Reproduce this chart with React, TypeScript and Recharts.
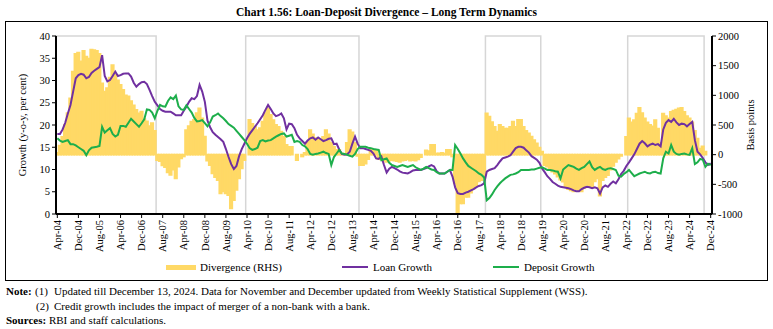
import React from 'react';
import { ComposedChart, Bar, Line, XAxis, YAxis, ReferenceArea } from 'recharts';

const FONT = '"Liberation Serif", "Times New Roman", serif';

const MONTH_NAMES = ['Jan', 'Feb', 'Mar', 'Apr', 'May', 'Jun', 'Jul', 'Aug', 'Sep', 'Oct', 'Nov', 'Dec'];
// Monthly categories from Apr-04 to Dec-24
const months: string[] = [];
for (let i = 0; i < 249; i++) {
  const mi = (3 + i) % 12;
  const yr = 2004 + Math.floor((3 + i) / 12);
  months.push(`${MONTH_NAMES[mi]}-${String(yr % 100).padStart(2, '0')}`);
}

const loanGrowth = [
  18, 18, 19, 20.5, 22.6, 24.5, 27.5, 30.5, 31.2, 31.5,
  31.3, 30.5, 30.8, 31.7, 32.2, 32.6, 33, 35.7, 31, 29.8,
  30.1, 31, 32, 31, 31.2, 31.5, 31.6, 31.6, 30.9, 29.5,
  28.6, 29.2, 29.6, 29.7, 29.2, 27.9, 26.5, 25.2, 24.4, 23.6,
  23.2, 23, 23, 23, 22.6, 22.2, 22.2, 22.2, 23.2, 24.1,
  25.2, 26, 25.8, 26.5, 29, 27.5, 25.2, 21, 19.5, 18.4,
  17.8, 17.3, 16.8, 16.2, 14.6, 12.8, 11.2, 10.1, 10.8, 13,
  14.6, 15.8, 17, 18, 18.8, 19.6, 20.4, 21.3, 22.2, 23.4,
  24.5, 23.6, 22.6, 22, 22.2, 22.6, 21.5, 19, 20.3, 20.2,
  19.3, 17.8, 17, 16.4, 15.8, 16.5, 17, 17.2, 16.7, 17.2,
  16.8, 16.4, 16.6, 16.9, 17, 15.7, 15.8, 14.5, 13.5, 13.3,
  13.4, 14, 15.8, 17.4, 15.8, 14.8, 14.8, 14.6, 14.4, 14.2,
  13.6, 12.5, 12.4, 12.9, 11, 9.3, 10.2, 10.6, 10.3, 10,
  9.6, 9.3, 9.2, 9.1, 9.4, 9.8, 9.9, 9.9, 9.9, 10.1,
  10.3, 10.7, 11, 10.7, 9.6, 9.1, 9.1, 9.1, 9.5, 9.9,
  8.4, 6, 4.7, 4.5, 4.5, 4.8, 5, 5.3, 5.6, 6,
  6.3, 6.5, 6.9, 9.5, 9.9, 10.1, 10.3, 11, 11.8, 12.5,
  12.7, 12.9, 13.2, 14, 14.8, 15.1, 15.1, 14.9, 14.3, 13.8,
  13, 12.6, 12.2, 11.5, 10.2, 9.4, 8.5, 7.9, 7.2, 6.8,
  6.4, 6.1, 6, 5.9, 5.8, 5.6, 5.3, 5.1, 5.1, 5.6,
  5.9, 6.1, 6, 5.8, 6, 5.8, 4.6, 6, 6.4, 6.1,
  6.8, 7.3, 6.9, 7.8, 9, 9.7, 10.8, 11.6, 12.5, 13.4,
  14.6, 15.8, 16.4, 15.9, 15.2, 15.6, 15.8, 15.5, 15.7, 15.2,
  19, 20.5, 21.1, 20.7, 21.4, 20.6, 20, 20.3, 20.2, 19.7,
  20.2, 20.7, 16.6, 14, 13.4, 12.6, 11.6, 11, 11.4,
];

const depositGrowth = [
  17, 16.5, 16.2, 16.4, 16.6, 15.7, 15.7, 15.4, 15, 14.6,
  14.2, 13.2, 14.3, 14.9, 15, 15.1, 15.3, 19.6, 18.3, 18.8,
  19.3, 18, 17.4, 17.8, 19.8, 19.8, 19.6, 20.5, 21.4, 20.8,
  20.2, 19.6, 20.4, 21.3, 23.5, 23.4, 22.8, 21.5, 23.2, 24.5,
  24.2, 24.1, 25.4, 26.2, 25.8, 26.6, 24.2, 23.5, 23.4, 24.4,
  23.6, 22.8, 21.6, 20.8, 20.9, 21.1, 20.4, 19.7, 20.6, 21.9,
  22.2, 22.6, 22, 21.5, 20.9, 20.2, 19.8, 19.4, 18.7, 18,
  17.3, 16.6, 15.8, 14.8, 14.4, 14.6, 14.9, 16.4, 16.6, 16.3,
  16.5, 16.6, 17, 17.4, 17.7, 18, 18.1, 17.4, 17.6, 17.8,
  16.2, 16.4, 16.2, 15.5, 15.2, 14.6, 13.5, 13.3, 13.5, 13.6,
  13.8, 14, 13.7, 13.5, 11, 12.8, 13.6, 14.4, 13.6, 13.5,
  13.3, 13.1, 12.9, 13.5, 14.6, 15.1, 15.1, 15.1, 14.9, 14.8,
  14.6, 14.5, 14.4, 12.1, 12.3, 12.5, 11.5, 11, 10.8, 10.6,
  10.8, 11, 10.8, 10.6, 10.8, 11, 10.5, 10.2, 9.9, 10.2,
  10.6, 10.3, 10, 9.9, 9.4, 9.1, 9.1, 9.1, 9.5, 9.9,
  9.9, 15.5, 14.6, 13.6, 12.5, 11.6, 10.8, 10.4, 10, 9.6,
  9.1, 8.8, 8.2, 3.1, 3.6, 4.4, 5.4, 6.2, 6.9, 7.5,
  8, 8.4, 8.8, 8.9, 9.1, 9.4, 9.9, 9.9, 9.9, 9.9,
  10, 10, 10.2, 10.4, 10.5, 10.2, 9.9, 9.9, 9.8, 9.6,
  9.5, 8, 10, 10.5, 11, 10.8, 10.6, 10.2, 9.9, 10.3,
  10.6, 11.2, 11.8, 10.5, 9.9, 10.3, 10.6, 10.1, 9.9, 10.2,
  10.3, 10.1, 9.9, 8.6, 8.4, 9, 9.4, 9.9, 9.2, 8.5,
  8.8, 9.1, 9.3, 9.5, 9.2, 9.1, 9.4, 9.5, 9.2, 9.1,
  12.5, 14, 13.6, 15.5, 14, 13.5, 13.3, 13.5, 13.6, 13.4,
  13.3, 14.8, 11.2, 11.6, 12.4, 12.2, 10.6, 11.3, 11,
];

const divergenceBps = [
  30, 150, 300, 500, 700, 950, 1400, 1700, 1720, 1570,
  1750, 1650, 1620, 1770, 1760, 1750, 1700, 1200, 1060, 1120,
  1300, 1510, 1350, 1250, 1175, 1090, 1000, 980, 900, 830,
  755, 695, 725, 600, 560, 480, 530, 400, -90, -110,
  -180, -210, -300, -340, -250, -400, -200, -60, -30, 415,
  480, 555, 585, 700, 780, 610, 305, -100, -175, -315,
  -380, -430, -650, -620, -650, -680, -905, -765, -595, -400,
  -230, -90, 0, 585, 520, 470, 415, 445, 555, 700,
  780, 670, 580, 500, 470, 390, 300, 165, 130, 130,
  0, -90, 0, -30, 30, 200, 415, 340, 280, 270,
  230, 300, 415, 340, 200, 130, 80, 80, 20, 0,
  200, 415, 375, 200, -20, -175, -175, -150, -75, 80,
  80, 60, -70, -80, -100, -120, -100, -90, -100, -110,
  -120, -100, -90, -80, -100, -90, -100, -80, -40, 0,
  70, 60, 165, 165, 20, 20, 30, 20, 80, 80,
  -30, -485, -1000, -820, -820, -710, -710, -640, -570, -520,
  -450, -430, -370, 695, 640, 550, 470, 390, 500, 470,
  440, 440, 470, 555, 470, 585, 585, 470, 400, 360,
  305, 245, 190, 120, 50, -175, -200, -230, -285, -320,
  -370, -420, -455, -545, -580, -600, -620, -580, -600, -620,
  -560, -510, -530, -545, -450, -400, -690, -430, -380, -345,
  -250, -190, -120, -65, -20, 0, 300, 610, 545, 580,
  690, 790, 700, 610, 545, 500, 475, 580, 440, 200,
  690, 650, 610, 720, 740, 760, 780, 790, 720, 650,
  610, 545, 400, 270, 100, 140, 50, 0, 0,
];

const leftTicks = [0, 5, 10, 15, 20, 25, 30, 35, 40];
const rightTicks = [-1000, -500, 0, 500, 1000, 1500, 2000];

const periodStarts = ['Apr-04', 'Apr-10', 'Nov-17', 'May-22'];
const periodEnds = ['May-07', 'Oct-13', 'Jul-19', 'Sep-24'];

const data = months.map((m, i) => ({
  month: m,
  loan: loanGrowth[i],
  deposit: depositGrowth[i],
  divergence: divergenceBps[i],
}));

const XTick = (props: any) => {
  const { x, y, payload } = props;
  return (
    <g transform={`translate(${x},${y})`}>
      <text
        x={0}
        y={0}
        dy="0.35em"
        transform="rotate(-90)"
        textAnchor="end"
        fontSize={10.5}
        fontFamily={FONT}
        fill="#000"
      >
        {payload.value}
      </text>
    </g>
  );
};

const YELLOW = '#FFD966';
const PURPLE = '#7030A0';
const GREEN = '#1DAE4B';

export default function App() {
  const textBase: React.CSSProperties = {
    position: 'absolute',
    fontFamily: FONT,
    fontSize: 11,
    color: '#000',
    whiteSpace: 'nowrap',
    lineHeight: '12px',
  };
  return (
    <div
      style={{
        position: 'absolute',
        left: 0,
        top: 0,
        width: 773,
        height: 329,
        background: '#fff',
        fontFamily: FONT,
      }}
    >
      <div
        style={{
          ...textBase,
          left: 0,
          top: 5,
          width: 773,
          textAlign: 'center',
          fontWeight: 'bold',
          fontSize: 11.5,
          lineHeight: '14px',
        }}
      >
        Chart 1.56: Loan-Deposit Divergence – Long Term Dynamics
      </div>
      <div
        style={{
          position: 'absolute',
          left: 5,
          top: 21,
          width: 761,
          height: 258,
          border: '1px solid #000',
        }}
      />
      <div style={{ position: 'absolute', left: 0, top: 0 }}>
        <ComposedChart
          width={773}
          height={262}
          data={data}
          margin={{ top: 36, right: 16, bottom: 8, left: 10 }}
          barCategoryGap={0}
          barGap={0}
        >
          <XAxis
            dataKey="month"
            interval={7}
            tickSize={4}
            height={40}
            tick={<XTick />}
            axisLine={{ stroke: '#000', strokeWidth: 2 }}
            tickLine={{ stroke: '#000' }}
          />
          <YAxis
            yAxisId="left"
            domain={[0, 40]}
            ticks={leftTicks}
            width={46}
            tickSize={4}
            tick={{ fontSize: 10.5, fill: '#000', fontFamily: FONT }}
            axisLine={{ stroke: '#000', strokeWidth: 2 }}
            tickLine={{ stroke: '#000' }}
            allowDataOverflow
            label={{
              value: 'Growth (y-o-y, per cent)',
              angle: -90,
              position: 'insideLeft',
              offset: 12,
              style: { textAnchor: 'middle', fontSize: 10.5, fill: '#000', fontFamily: FONT },
            }}
          />
          <YAxis
            yAxisId="right"
            orientation="right"
            domain={[-1000, 2000]}
            ticks={rightTicks}
            width={45}
            tickSize={4}
            tick={{ fontSize: 10.5, fill: '#000', fontFamily: FONT }}
            axisLine={{ stroke: '#000', strokeWidth: 2 }}
            tickLine={{ stroke: '#000' }}
            allowDataOverflow
            label={{
              value: 'Basis points',
              angle: -90,
              position: 'insideRight',
              offset: 7,
              style: { textAnchor: 'middle', fontSize: 10.5, fill: '#000', fontFamily: FONT },
            }}
          />
          {periodStarts.map((s, i) => (
            <ReferenceArea
              key={s}
              yAxisId="left"
              x1={s}
              x2={periodEnds[i]}
              fill="#fff"
              fillOpacity={0}
              stroke="#D6D6D6"
              strokeWidth={1.5}
            />
          ))}
          <Bar
            yAxisId="right"
            dataKey="divergence"
            name="Divergence (RHS)"
            fill={YELLOW}
            stroke={YELLOW}
            strokeWidth={1.8}
            barSize={3}
            isAnimationActive={false}
          />
          <Line
            yAxisId="left"
            dataKey="loan"
            name="Loan Growth"
            stroke={PURPLE}
            strokeWidth={2}
            dot={false}
            type="linear"
            isAnimationActive={false}
          />
          <Line
            yAxisId="left"
            dataKey="deposit"
            name="Deposit Growth"
            stroke={GREEN}
            strokeWidth={2}
            dot={false}
            type="linear"
            isAnimationActive={false}
          />
        </ComposedChart>
      </div>
      {/* Legend */}
      <div style={{ position: 'absolute', left: 166, top: 265, width: 30, height: 5, background: YELLOW }} />
      <div style={{ ...textBase, left: 200, top: 261 }}>Divergence (RHS)</div>
      <div style={{ position: 'absolute', left: 342, top: 266, width: 26, height: 2, background: PURPLE }} />
      <div style={{ ...textBase, left: 373, top: 261 }}>Loan Growth</div>
      <div style={{ position: 'absolute', left: 493, top: 266, width: 26, height: 2, background: GREEN }} />
      <div style={{ ...textBase, left: 524, top: 261 }}>Deposit Growth</div>
      {/* Notes */}
      <div style={{ ...textBase, left: 6, top: 285, fontWeight: 'bold' }}>Note:</div>
      <div style={{ ...textBase, left: 35, top: 285 }}>(1)</div>
      <div style={{ ...textBase, left: 54, top: 285 }}>
        Updated till December 13, 2024. Data for November and December updated from Weekly Statistical Supplement (WSS).
      </div>
      <div style={{ ...textBase, left: 36, top: 300 }}>(2)</div>
      <div style={{ ...textBase, left: 54, top: 300 }}>
        Credit growth includes the impact of merger of a non-bank with a bank.
      </div>
      <div style={{ ...textBase, left: 6, top: 314 }}>
        <b>Sources:</b> RBI and staff calculations.
      </div>
    </div>
  );
}
